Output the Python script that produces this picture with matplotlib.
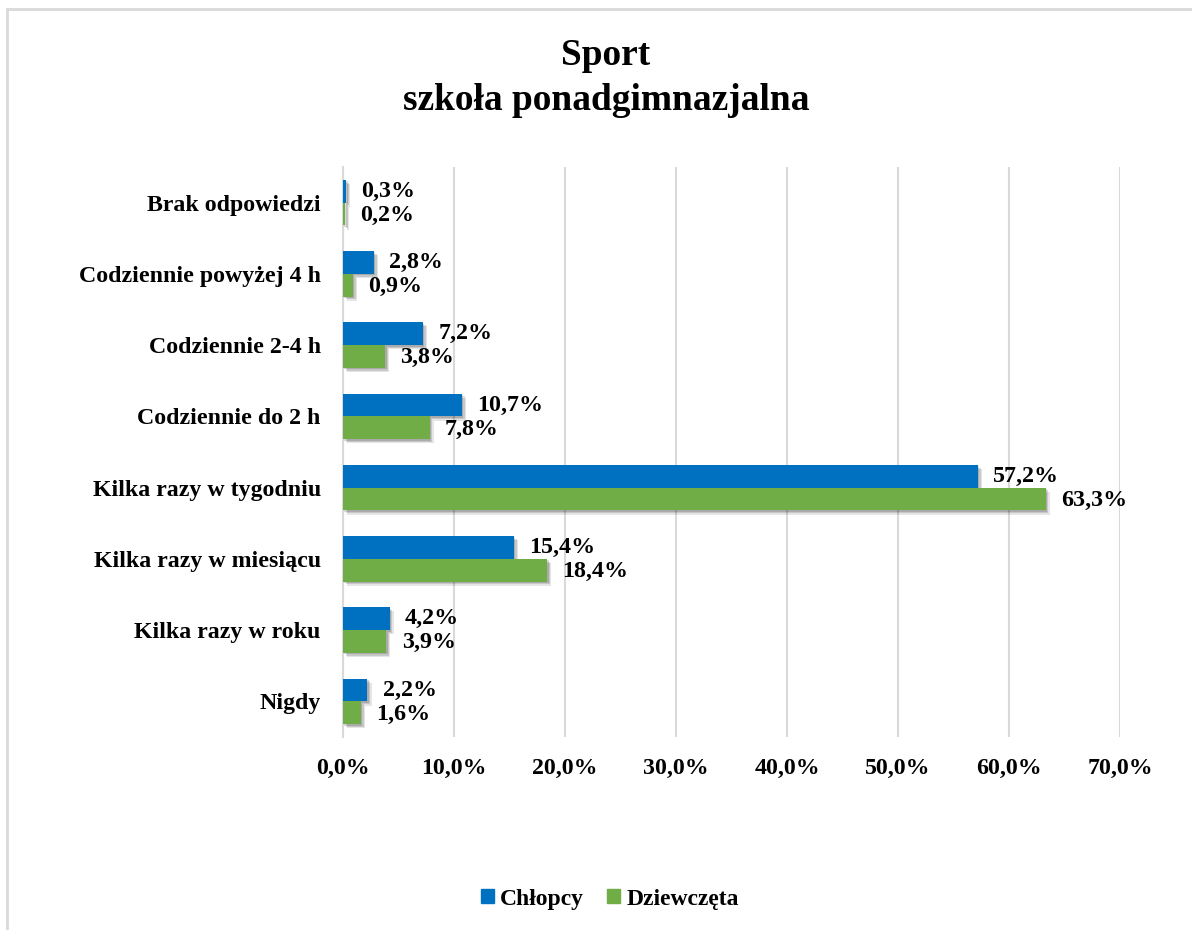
import matplotlib
matplotlib.use("Agg")
import matplotlib.pyplot as plt
import matplotlib.patheffects as pe
from matplotlib.patches import Rectangle
import numpy as np

categories = ["Brak odpowiedzi", "Codziennie powyżej 4 h", "Codziennie 2-4 h",
              "Codziennie do 2 h", "Kilka razy w tygodniu", "Kilka razy w miesiącu",
              "Kilka razy w roku", "Nigdy"]
chlopcy = [0.3, 2.8, 7.2, 10.7, 57.2, 15.4, 4.2, 2.2]
dziewczeta = [0.2, 0.9, 3.8, 7.8, 63.3, 18.4, 3.9, 1.6]
series_names = ["Chłopcy", "Dziewczęta"]
xticks = [0, 10, 20, 30, 40, 50, 60, 70]
title = "Sport\nszkoła ponadgimnazjalna"

plt.rcParams['font.family'] = ['Liberation Serif', 'DejaVu Serif']
plt.rcParams['font.weight'] = 'bold'

BLUE = "#0070C0"
GREEN = "#70AD47"
GRID = "#D9D9D9"

fig = plt.figure(figsize=(11.92, 9.3), dpi=100)
# outer chart border
fig.patches.append(Rectangle((7/1192, -0.05), 1.2, (930-9)/930 + 0.05,
                             transform=fig.transFigure, fill=False,
                             edgecolor=GRID, linewidth=2))

ax = fig.add_axes([343/1192, 1-737/930, (1120-343)/1192, (737-167)/930])

n = len(categories)
y = np.arange(n)
h = 0.32
shadow = [pe.SimplePatchShadow(offset=(1, -1), shadow_rgbFace='black', alpha=0.14),
          pe.SimplePatchShadow(offset=(2, -2), shadow_rgbFace='black', alpha=0.13),
          pe.SimplePatchShadow(offset=(3, -3), shadow_rgbFace='black', alpha=0.10),
          pe.Normal()]

b1 = ax.barh(y - h/2, chlopcy, height=h, color=BLUE, label=series_names[0], zorder=3)
b2 = ax.barh(y + h/2, dziewczeta, height=h, color=GREEN, label=series_names[1], zorder=3)
for b in list(b1) + list(b2):
    b.set_path_effects(shadow)

for yi, v in zip(y, chlopcy):
    ax.annotate(f"{v:.1f}%".replace(".", ","), (v, yi - h/2), xytext=(11, 0),
                textcoords="offset points", va="center", ha="left",
                fontsize=17.3, fontweight="bold")
for yi, v in zip(y, dziewczeta):
    ax.annotate(f"{v:.1f}%".replace(".", ","), (v, yi + h/2), xytext=(11, -1),
                textcoords="offset points", va="center", ha="left",
                fontsize=17.3, fontweight="bold")

ax.set_ylim(n - 0.5, -0.5)
ax.set_xlim(0, 70)
ax.set_yticks(y)
ax.set_yticklabels(categories, fontsize=17.2, fontweight="bold")
ax.set_xticks(xticks)
ax.set_xticklabels([f"{t:.1f}%".replace(".", ",") for t in xticks], fontsize=17.2, fontweight="bold")
ax.tick_params(axis='both', length=0)
ax.tick_params(axis='y', pad=16)
ax.tick_params(axis='x', pad=15)
ax.grid(axis='x', color=GRID, linewidth=1.5, zorder=0)
ax.set_axisbelow(True)
for s in ["top", "right", "bottom"]:
    ax.spines[s].set_visible(False)
ax.spines["left"].set_color(GRID)
ax.spines["left"].set_linewidth(1.5)

fig.text(606/1192, 1-78/930, title, ha="center", va="center", fontsize=26.9,
         fontweight="bold", linespacing=1.4)

handles = [Rectangle((0, 0), 1, 1, color=BLUE), Rectangle((0, 0), 1, 1, color=GREEN)]
fig.legend(handles, series_names, loc="center", bbox_to_anchor=(610/1192, 1-899/930),
           ncol=2, frameon=False, prop={'size': 17, 'weight': 'bold'},
           handlelength=0.55, handleheight=0.55, handletextpad=0.25, columnspacing=0.98)

fig.savefig("out.png", dpi=100)
